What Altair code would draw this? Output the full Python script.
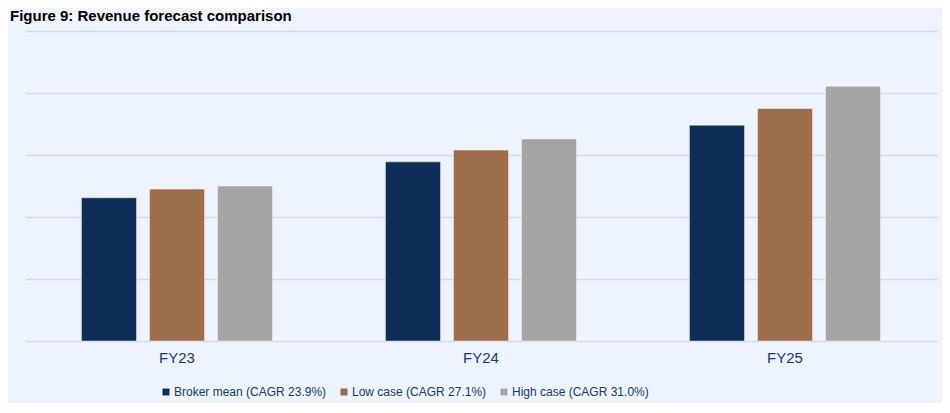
import altair as alt
import pandas as pd

years = ["FY23", "FY24", "FY25"]
series = ["Broker mean (CAGR 23.9%)", "Low case (CAGR 27.1%)", "High case (CAGR 31.0%)"]
colors = ["#0F2D59", "#9E6D4B", "#A5A5A5"]
broker_mean = [2.31, 2.89, 3.48]
low_case = [2.45, 3.08, 3.75]
high_case = [2.50, 3.26, 4.11]
grid_values = [0, 1, 2, 3, 4, 5]

rows = []
for name, vals in zip(series, [broker_mean, low_case, high_case]):
    for y, v in zip(years, vals):
        rows.append({"year": y, "series": name, "value": v})
df = pd.DataFrame(rows)

LABEL_COLOR = "#203864"
FONT = "Liberation Sans"

chart = alt.Chart(df).mark_bar(
    stroke="white", strokeWidth=0.8, strokeOpacity=0.6
).encode(
    x=alt.X(
        "year:N", sort=years,
        scale=alt.Scale(paddingInner=0, paddingOuter=0),
        axis=alt.Axis(title=None, labelAngle=0, labelFont=FONT, labelFontSize=15,
                      labelColor=LABEL_COLOR, labelPadding=9, ticks=False,
                      domain=False, grid=False),
    ),
    xOffset=alt.XOffset(
        "series:N", sort=series,
        scale=alt.Scale(paddingInner=0.19, paddingOuter=0.83),
    ),
    y=alt.Y(
        "value:Q",
        scale=alt.Scale(domain=[0, 5], nice=False),
        axis=alt.Axis(title=None, labels=False, ticks=False, domain=False,
                      values=grid_values, gridColor="#D6D9DE", gridWidth=1.5),
    ),
    color=alt.Color(
        "series:N", sort=series,
        scale=alt.Scale(domain=series, range=colors),
        legend=alt.Legend(
            title=None, orient="none", legendX=135, legendY=355,
            direction="horizontal", padding=0, symbolType="square",
            symbolSize=49, symbolStrokeWidth=0, labelFont=FONT,
            labelFontSize=12, labelColor=LABEL_COLOR, labelOffset=2,
            labelLimit=400, columnPadding=11,
        ),
    ),
).properties(
    width=912,
    height=310,
    padding={"left": 17, "top": 23, "right": 5, "bottom": 62},
    autosize=alt.AutoSizeParams(type="none"),
    background="#EDF4FD",
    title=alt.TitleParams(
        "Figure 9: Revenue forecast comparison", anchor="start", dx=-15,
        fontSize=15, fontWeight="bold", font=FONT, color="black", offset=7,
    ),
).configure_view(stroke=None)

chart.save("out.html", embed_options={"renderer": "svg", "actions": False})
